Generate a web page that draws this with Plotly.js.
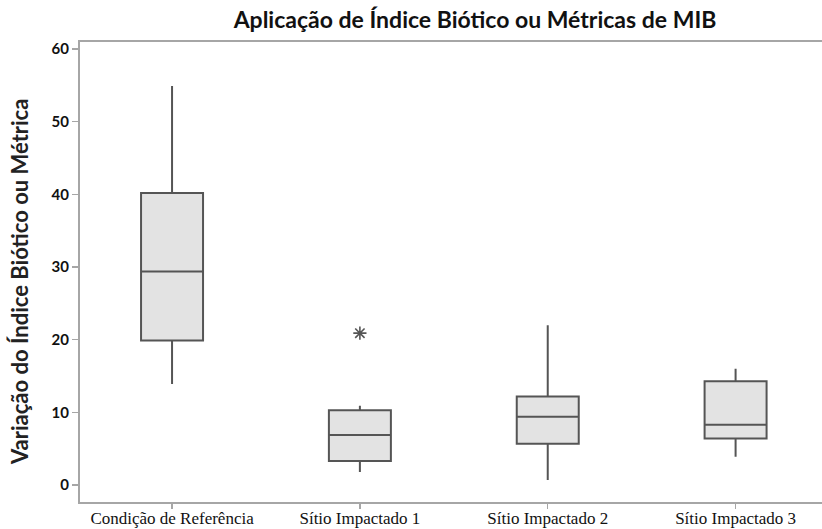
<!DOCTYPE html>
<html>
<head>
<meta charset="utf-8">
<script src="https://cdn.plot.ly/plotly-3.0.1.min.js"></script>
<style>html,body{margin:0;padding:0;background:#fff;}#chart{width:822px;height:529px;}</style>
</head>
<body>
<div id="chart"></div>
<script>
const categories = ["Condição de Referência", "Sítio Impactado 1", "Sítio Impactado 2", "Sítio Impactado 3"];
const lowerWhisker = [13.9, 1.8, 0.7, 3.9];
const q1Values = [19.9, 3.3, 5.7, 6.4];
const medianValues = [29.4, 6.9, 9.4, 8.3];
const q3Values = [40.2, 10.3, 12.2, 14.3];
const upperWhisker = [54.9, 10.9, 22.0, 16.0];
const outlierCategories = ["Sítio Impactado 1"];
const outlierValues = [20.9];
const yTicks = [0, 10, 20, 30, 40, 50, 60];

const boxTrace = {
  type: "box",
  x: categories,
  q1: q1Values,
  median: medianValues,
  q3: q3Values,
  lowerfence: lowerWhisker,
  upperfence: upperWhisker,
  boxpoints: false,
  whiskerwidth: 0,
  width: 0.33,
  fillcolor: "#e3e3e3",
  line: {color: "#555555", width: 2},
  hoverinfo: "skip",
  showlegend: false
};

const outlierTrace = {
  type: "scatter",
  mode: "markers",
  x: outlierCategories,
  y: outlierValues,
  marker: {symbol: "asterisk-open", size: 11, color: "#555555", line: {color: "#555555", width: 1.6}},
  hoverinfo: "skip",
  showlegend: false
};

const layout = {
  width: 822,
  height: 529,
  margin: {l: 80, r: 0, t: 42, b: 27},
  paper_bgcolor: "#ffffff",
  plot_bgcolor: "#ffffff",
  title: {
    text: "Aplicação de Índice Biótico ou Métricas de MIB",
    font: {family: "Lato, 'Open Sans', sans-serif", size: 23, color: "#111111", weight: "bold"},
    x: 475 / 822, xanchor: "center", xref: "container",
    y: 1 - 20 / 529, yanchor: "middle", yref: "container"
  },
  xaxis: {
    type: "category",
    range: [-0.49, 3.46],
    showgrid: false,
    zeroline: false,
    showline: true,
    linecolor: "#a6a6a6",
    linewidth: 2,
    mirror: true,
    ticks: "outside",
    ticklen: 5,
    tickwidth: 1.5,
    tickcolor: "#a6a6a6",
    ticklabelstandoff: -5,
    tickfont: {family: "'Liberation Serif', 'DejaVu Serif', serif", size: 17, color: "#111111"},
    fixedrange: true
  },
  yaxis: {
    range: [-2.33, 60.96],
    tickvals: yTicks,
    ticktext: yTicks.map(String),
    showgrid: false,
    zeroline: false,
    showline: true,
    linecolor: "#a6a6a6",
    linewidth: 2,
    ticks: "outside",
    ticklen: 6,
    tickwidth: 1.5,
    tickcolor: "#a6a6a6",
    tickfont: {family: "Lato, 'Open Sans', sans-serif", size: 15, color: "#111111", weight: "bold"},
    fixedrange: true
  },
  annotations: [{
    text: "Variação do Índice Biótico ou Métrica",
    textangle: -90,
    xref: "paper", yref: "paper",
    x: (19 - 80) / 742, y: (502 - 282) / 460,
    xanchor: "center", yanchor: "middle",
    showarrow: false,
    font: {family: "Lato, 'Open Sans', sans-serif", size: 22, color: "#222222", weight: "bold"}
  }]
};

Plotly.newPlot("chart", [boxTrace, outlierTrace], layout, {displayModeBar: false, staticPlot: true});
</script>
</body>
</html>
